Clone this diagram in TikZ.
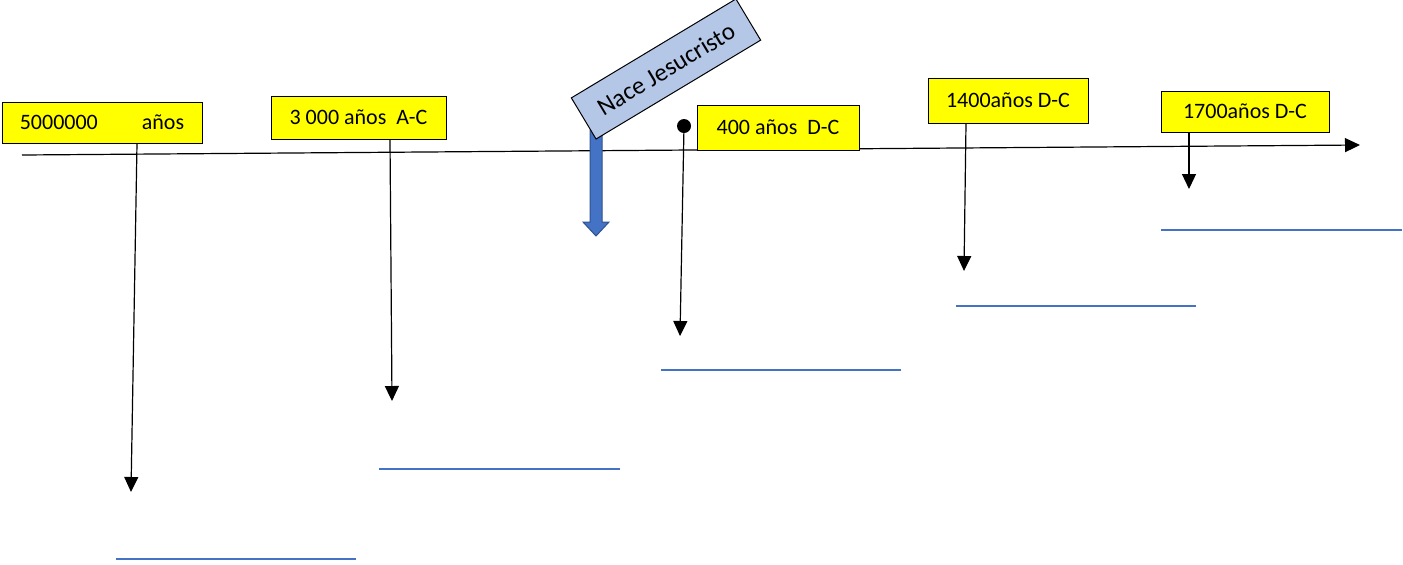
\documentclass[tikz,border=0pt]{standalone}
\usepackage{fontspec}
\setmainfont{Carlito}
\usepackage{xcolor}
\usetikzlibrary{arrows.meta}
\definecolor{boxyellow}{HTML}{FFFF00}
\definecolor{jesusblue}{HTML}{B4C7E7}
\definecolor{arrowblue}{HTML}{4472C4}
\definecolor{arrowedge}{HTML}{2F528F}

\begin{document}
\begin{tikzpicture}[x=0.5pt, y=-0.5pt]
    \tikzstyle{yearbox} = [rectangle, draw, fill=boxyellow, inner sep=0pt, line width=0.5pt, font=\fontsize{11}{13}\selectfont]
    \tikzstyle{drop} = [-{Triangle[length=7.5pt, width=7pt]}, line width=0.6pt]
    \tikzstyle{blank} = [arrowblue, line width=0.6pt]

    \useasboundingbox (0,0) rectangle (1403,564);

    % Timeline
    \coordinate (tstart) at (22,155);
    \coordinate (tend) at (1360,145);
    \draw[drop] (tstart) -- (tend);

    % Birth of Christ marker
    \draw[arrowedge, fill=arrowblue, line width=0.5pt] (590,130) -- (602,130) -- (602,222) -- (609,222)
        -- (596,236) -- (583,222) -- (590,222) -- cycle;
    \node[draw, fill=jesusblue, rotate=31, line width=0.5pt, inner sep=0pt, minimum width=96pt,
        minimum height=24pt, font=\fontsize{12.5}{14}\selectfont] (jesus) at (666,69) {Nace Jesucristo};

    % Year boxes
    \node[yearbox, minimum width=100pt, minimum height=20.5pt] (y5m) at (102,122.5) {5000000\hspace{2em}años};
    \node[yearbox, minimum width=87.5pt, minimum height=21.5pt] (y3000) at (358.5,117.5) {3 000 años\ \ A-C};
    \node[yearbox, minimum width=81pt, minimum height=22.5pt] (y400) at (778,127.5) {400 años\ \ D-C};
    \node[yearbox, minimum width=80pt, minimum height=22.5pt] (y1400) at (1008,100.5) {1400años D-C};
    \node[yearbox, minimum width=84pt, minimum height=20.5pt] (y1700) at (1245,111.5) {1700años D-C};
    \node[circle, fill, inner sep=0pt, minimum size=7pt] (dot) at (684,126) {};

    % Drop arrows
    \coordinate (e5m) at (131,492);
    \coordinate (e3000) at (392,401);
    \coordinate (e400) at (680,336);
    \coordinate (e1400) at (964,271);
    \coordinate (e1700) at (1189,189);
    \draw[drop] ([xshift=17.5pt]y5m.south) -- (e5m);
    \draw[drop] ([xshift=15.75pt]y3000.south) -- (e3000);
    \draw[drop] (dot.center) -- (e400);
    \draw[drop] ([xshift=-21pt]y1400.south) -- (e1400);
    \draw[drop] ([xshift=-28pt]y1700.south) -- (e1700);

    % Blank lines
    \draw[blank] (116,559) -- (356,559);
    \draw[blank] (379,469) -- (620,469);
    \draw[blank] (661,370) -- (901,370);
    \draw[blank] (956,306) -- (1196,306);
    \draw[blank] (1161,230) -- (1402,230);
\end{tikzpicture}
\end{document}
